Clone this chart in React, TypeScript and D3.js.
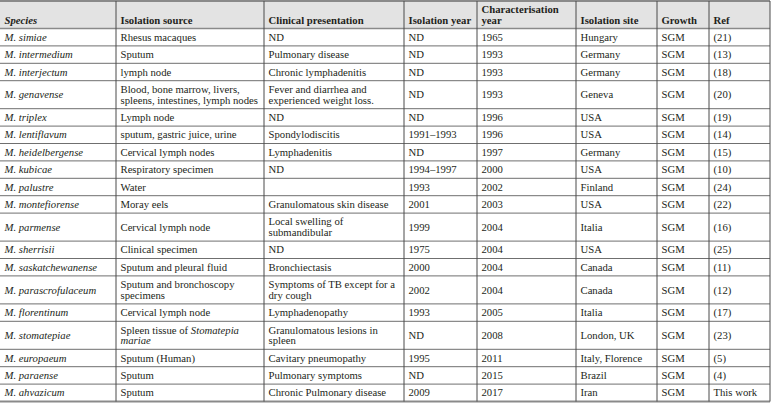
import React, { useEffect, useRef } from "react";
import * as d3 from "d3";

const headers = ["*Species*", "Isolation source", "Clinical presentation", "Isolation year", "Characterisation\nyear", "Isolation site", "Growth", "Ref"];
const colWeights = [116, 148, 140, 73, 99, 81, 52, 61];

const species = ["M. simiae", "M. intermedium", "M. interjectum", "M. genavense", "M. triplex", "M. lentiflavum", "M. heidelbergense", "M. kubicae", "M. palustre", "M. montefiorense", "M. parmense", "M. sherrisii", "M. saskatchewanense", "M. parascrofulaceum", "M. florentinum", "M. stomatepiae", "M. europaeum", "M. paraense", "M. ahvazicum"];
const isolationSource = ["Rhesus macaques", "Sputum", "lymph node", "Blood, bone marrow, livers,\nspleens, intestines, lymph nodes", "Lymph node", "sputum, gastric juice, urine", "Cervical lymph nodes", "Respiratory specimen", "Water", "Moray eels", "Cervical lymph node", "Clinical specimen", "Sputum and pleural fluid", "Sputum and bronchoscopy\nspecimens", "Cervical lymph node", "Spleen tissue of *Stomatepia*\n*mariae*", "Sputum (Human)", "Sputum", "Sputum"];
const clinical = ["ND", "Pulmonary disease", "Chronic lymphadenitis", "Fever and diarrhea and\nexperienced weight loss.", "ND", "Spondylodiscitis", "Lymphadenitis", "ND", "", "Granulomatous skin disease", "Local swelling of\nsubmandibular", "ND", "Bronchiectasis", "Symptoms of TB except for a\ndry cough", "Lymphadenopathy", "Granulomatous lesions in\nspleen", "Cavitary pneumopathy", "Pulmonary symptoms", "Chronic Pulmonary disease"];
const isolationYear = ["ND", "ND", "ND", "ND", "ND", "1991–1993", "ND", "1994–1997", "1993", "2001", "1999", "1975", "2000", "2002", "1993", "ND", "1995", "ND", "2009"];
const charYear = ["1965", "1993", "1993", "1993", "1996", "1996", "1997", "2000", "2002", "2003", "2004", "2004", "2004", "2004", "2005", "2008", "2011", "2015", "2017"];
const isolationSite = ["Hungary", "Germany", "Germany", "Geneva", "USA", "USA", "Germany", "USA", "Finland", "USA", "Italia", "USA", "Canada", "Canada", "Italia", "London, UK", "Italy, Florence", "Brazil", "Iran"];
const growth = ["SGM", "SGM", "SGM", "SGM", "SGM", "SGM", "SGM", "SGM", "SGM", "SGM", "SGM", "SGM", "SGM", "SGM", "SGM", "SGM", "SGM", "SGM", "SGM"];
const refs = ["(21)", "(13)", "(18)", "(20)", "(19)", "(14)", "(15)", "(10)", "(24)", "(22)", "(16)", "(25)", "(11)", "(12)", "(17)", "(23)", "(5)", "(4)", "This work"];

const FONT = "'Liberation Serif', 'Times New Roman', serif";

export default function App() {
  const ref = useRef<SVGSVGElement>(null);
  useEffect(() => {
    const W = 776, H = 409;
    const svg = d3.select(ref.current);
    svg.selectAll("*").remove();

    const columns = [species.map((s) => `*${s}*`), isolationSource, clinical, isolationYear, charYear, isolationSite, growth, refs];
    const rows = species.map((_, i) => columns.map((c) => c[i]));

    const tableLeft = 0, tableRight = 770, top = 1, headerH = 27.5;
    const lineH = 10.6, basePad = 6.8, fontSize = 10.7;
    const rowH = rows.map((r) => d3.max(r, (c) => c.split("\n").length)! * lineH + basePad);
    const yEdges = [top + headerH, ...d3.cumsum(rowH).map((v) => top + headerH + v)];
    const colCum = [0, ...d3.cumsum(colWeights)];
    const x = d3.scaleLinear().domain([0, d3.sum(colWeights)]).range([tableLeft, tableRight]);
    const xEdges = colCum.map((v) => x(v));

    svg.append("rect").attr("x", tableLeft).attr("y", top).attr("width", tableRight - tableLeft).attr("height", headerH).attr("fill", "#e3e3e3");

    const addText = (g: any, str: string, tx: number, baseline: number, bold: boolean) => {
      const lines = str.split("\n");
      lines.forEach((ln, li) => {
        const t = g.append("text").attr("x", tx).attr("y", baseline + li * lineH)
          .attr("font-family", FONT).attr("font-size", fontSize).attr("fill", "#231f20")
          .attr("font-weight", bold ? "bold" : "normal");
        const parts = ln.split("*");
        parts.forEach((p, pi) => {
          if (!p) return;
          t.append("tspan").attr("font-style", pi % 2 === 1 ? "italic" : "normal").text(p);
        });
      });
    };

    const hg = svg.append("g");
    headers.forEach((h, ci) => {
      const n = h.split("\n").length;
      const baseline = top + headerH - 5 - (n - 1) * lineH;
      addText(hg, h, xEdges[ci] + 4.5, baseline, true);
    });

    const bg = svg.append("g");
    rows.forEach((r, ri) => {
      const cy = (yEdges[ri] + yEdges[ri + 1]) / 2;
      r.forEach((c, ci) => {
        const n = c.split("\n").length;
        const baseline = cy + 3.6 - ((n - 1) * lineH) / 2;
        addText(bg, c, xEdges[ci] + 4.5, baseline, false);
      });
    });

    const lg = svg.append("g");
    yEdges.slice(1, -1).forEach((y) => {
      lg.append("line").attr("x1", tableLeft).attr("x2", tableRight).attr("y1", y).attr("y2", y)
        .attr("stroke", "#6f6f6f").attr("stroke-width", 1);
    });
    lg.append("line").attr("x1", tableLeft).attr("x2", tableRight).attr("y1", yEdges[0]).attr("y2", yEdges[0])
      .attr("stroke", "#8a8a8a").attr("stroke-width", 1.6);
    lg.append("line").attr("x1", tableLeft).attr("x2", tableRight).attr("y1", top).attr("y2", top)
      .attr("stroke", "#8a8a8a").attr("stroke-width", 2);
    const yb = yEdges[yEdges.length - 1];
    lg.append("line").attr("x1", tableLeft).attr("x2", tableRight).attr("y1", yb).attr("y2", yb)
      .attr("stroke", "#8a8a8a").attr("stroke-width", 2);

    xEdges.slice(1).forEach((xx) => {
      lg.append("line").attr("x1", xx).attr("x2", xx).attr("y1", top).attr("y2", yb)
        .attr("stroke", "#4a4a4a").attr("stroke-width", 1);
    });

    svg.attr("width", W).attr("height", H);
  }, []);
  return (
    <svg ref={ref} width={776} height={409} style={{ position: "absolute", left: 0, top: 0, background: "#fff" }} />
  );
}
